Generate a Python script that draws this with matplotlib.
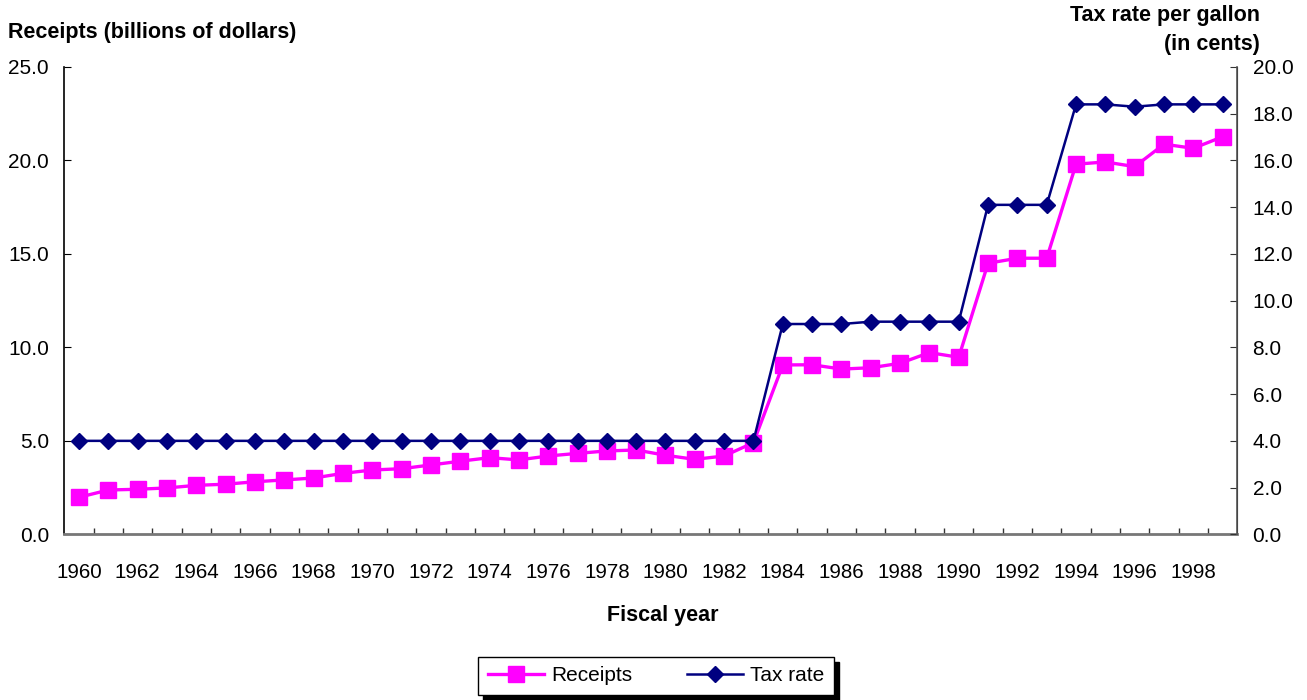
import matplotlib.pyplot as plt
import numpy as np

plt.rcParams['font.family'] = ['Liberation Sans', 'DejaVu Sans']

years = list(range(1960, 2000))
receipts = [1.98, 2.37, 2.41, 2.48, 2.62, 2.68, 2.81, 2.91, 3.01, 3.26,
            3.44, 3.51, 3.71, 3.91, 4.10, 3.98, 4.19, 4.33, 4.46, 4.51,
            4.23, 4.01, 4.19, 4.90, 9.06, 9.07, 8.84, 8.91, 9.15, 9.72,
            9.47, 14.50, 14.77, 14.77, 19.80, 19.92, 19.67, 20.87, 20.65, 21.27]
tax_rate = [4.0] * 24 + [9.0, 9.0, 9.0, 9.1, 9.1, 9.1, 9.1,
                         14.1, 14.1, 14.1, 18.4, 18.4, 18.3, 18.4, 18.4, 18.4]

fig = plt.figure(figsize=(13.07, 7.0), dpi=100)
ax = fig.add_axes([0.0492, 0.2367, 0.8975, 0.6676])
ax2 = ax.twinx()

x = np.arange(len(years))
l1, = ax.plot(x, receipts, color='#FF00FF', lw=2.4, marker='s', ms=11,
              label='Receipts')
l2, = ax2.plot(x, tax_rate, color='#000080', lw=1.8, marker='D', ms=8,
               label='Tax rate')

ax.set_xlim(-0.5, len(years) - 0.5)
ax.set_ylim(0, 25)
ax2.set_ylim(0, 20)
ax.set_yticks(np.arange(0, 25.1, 5))
ax.set_yticklabels([f'{v:.1f}' for v in np.arange(0, 25.1, 5)])
ax2.set_yticks(np.arange(0, 20.1, 2))
ax2.set_yticklabels([f'{v:.1f}' for v in np.arange(0, 20.1, 2)])

# year labels every two years, tick marks at category boundaries
ax.set_xticks(x[::2])
ax.set_xticklabels([str(y) for y in years[::2]])
ax.set_xticks(np.arange(0.5, len(years) - 0.5, 1), minor=True)
ax.tick_params(axis='x', which='major', length=0, pad=21, labelsize=14.8)
ax.tick_params(axis='x', which='minor', direction='in', length=4.5,
               color='#333333', width=1)
ax.tick_params(axis='y', direction='in', length=5, pad=11, labelsize=15)
ax2.tick_params(axis='y', direction='in', length=5, pad=11, labelsize=15,
                color='#333333')

for a in (ax, ax2):
    a.spines['top'].set_visible(False)
ax.spines['left'].set_color('black')
ax.spines['left'].set_linewidth(1.2)
ax.spines['bottom'].set_color('#777777')
ax.spines['bottom'].set_linewidth(2)
ax2.spines['left'].set_visible(False)
ax2.spines['bottom'].set_visible(False)
ax2.spines['right'].set_color('#555555')
ax2.spines['right'].set_linewidth(1.2)

fig.text(0.006, 0.954, 'Receipts (billions of dollars)', fontsize=15.5,
         fontweight='bold', ha='left', va='center')
fig.text(0.964, 0.978, 'Tax rate per gallon', fontsize=15.5,
         fontweight='bold', ha='right', va='center')
fig.text(0.964, 0.937, '(in cents)', fontsize=15.5,
         fontweight='bold', ha='right', va='center')
fig.text(0.507, 0.12, 'Fiscal year', fontsize=15.5, fontweight='bold',
         ha='center', va='center')

leg = fig.legend(handles=[l1, l2], loc='center', ncol=2,
                 bbox_to_anchor=(0.502, 0.0345), fontsize=15,
                 frameon=True, fancybox=False, handlelength=2.7,
                 columnspacing=2.6, borderpad=0.45, handletextpad=0.35,
                 shadow={'color': 'black', 'alpha': 1, 'ox': 3.5, 'oy': -3.5})
leg.get_frame().set_edgecolor('black')
leg.get_frame().set_linewidth(1)

fig.savefig('out.png', dpi=100)
